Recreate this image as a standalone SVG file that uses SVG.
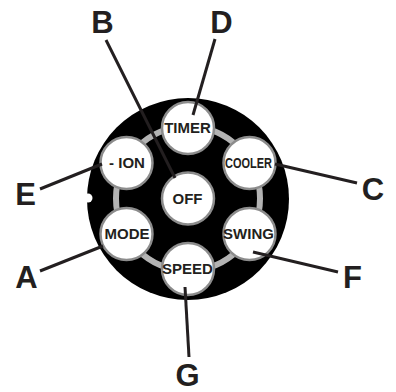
<svg xmlns="http://www.w3.org/2000/svg" width="396" height="392" viewBox="0 0 396 392">
<style>
.btn{fill:#fff;stroke:#8c8c8c;stroke-width:2.5}
.bt{font-family:"Liberation Sans",Arial,sans-serif;font-weight:bold;font-size:15px;fill:#231f20;text-anchor:middle}
.lbl{font-family:"Liberation Sans",Arial,sans-serif;font-weight:bold;font-size:31px;fill:#231f20;text-anchor:middle}
.ln{stroke:#231f20;stroke-width:3;fill:none;stroke-linecap:butt}
</style>
<rect width="396" height="392" fill="#fff"/>
<g id="panel">
<circle cx="188" cy="199" r="101" fill="#000"/>
<circle cx="88" cy="198" r="4.5" fill="#fff"/>
<circle cx="188" cy="198.5" r="72" fill="none" stroke="#b3b3b3" stroke-width="6"/>
</g>
<g id="btn-timer"><circle class="btn" cx="188" cy="128" r="26"/><text class="bt" x="187.5" y="133">TIMER</text></g>
<g id="btn-cooler"><circle class="btn" cx="249.5" cy="163" r="26"/><text class="bt" x="248.5" y="168" font-size="14" textLength="47" lengthAdjust="spacingAndGlyphs">COOLER</text></g>
<g id="btn-ion"><circle class="btn" cx="126.5" cy="163" r="26"/><text class="bt" x="127" y="168">- ION</text></g>
<g id="btn-off"><circle class="btn" cx="188" cy="198.5" r="26"/><text class="bt" x="187.5" y="203.5">OFF</text></g>
<g id="btn-mode"><circle class="btn" cx="126.5" cy="234" r="26"/><text class="bt" x="127" y="239">MODE</text></g>
<g id="btn-swing"><circle class="btn" cx="249.5" cy="234" r="26"/><text class="bt" x="248.5" y="239">SWING</text></g>
<g id="btn-speed"><circle class="btn" cx="188" cy="269" r="26"/><text class="bt" x="187.5" y="274">SPEED</text></g>
<g id="connectors">
<line class="ln" x1="106" y1="40" x2="175" y2="178"/>
<line class="ln" x1="215" y1="39" x2="193" y2="115"/>
<line class="ln" x1="40" y1="189" x2="102" y2="164"/>
<line class="ln" x1="357" y1="183" x2="275" y2="164"/>
<line class="ln" x1="40" y1="271" x2="103" y2="246"/>
<line class="ln" x1="338" y1="272" x2="253" y2="252"/>
<line class="ln" x1="189" y1="357" x2="185" y2="287"/>
</g>
<g id="labels">
<text class="lbl" x="102.5" y="33">B</text>
<text class="lbl" x="221.5" y="33">D</text>
<text class="lbl" x="25.5" y="205">E</text>
<text class="lbl" x="373" y="200">C</text>
<text class="lbl" x="26.5" y="288">A</text>
<text class="lbl" x="352.5" y="288">F</text>
<text class="lbl" x="187.5" y="386">G</text>
</g>
</svg>
